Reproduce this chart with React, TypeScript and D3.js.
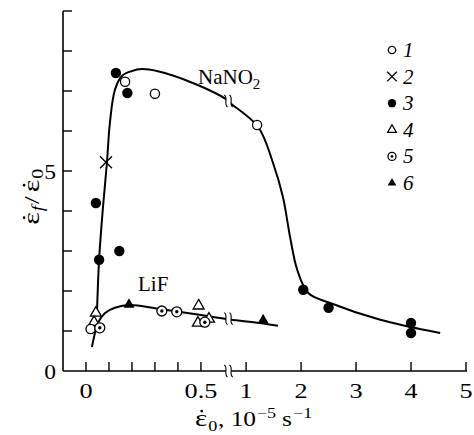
import React from "react";
import * as d3 from "d3";

// Tick positions (x axis has a break between 0.62 and 0.68)
const xTicks = [0, 0.1, 0.2, 0.3, 0.4, 0.5, 1, 2, 3, 4, 5];
const xTickLabels = [
  { v: 0, t: "0" },
  { v: 0.5, t: "0.5" },
  { v: 1, t: "1" },
  { v: 2, t: "2" },
  { v: 3, t: "3" },
  { v: 4, t: "4" },
  { v: 5, t: "5" },
];
const yTicks = [1, 2, 3, 4, 5, 6, 7, 8, 9];
const yTickLabels = [0, 5];

// Measured series
const series1: [number, number][] = [[0.17, 7.23], [0.3, 6.93], [1.2, 6.15], [0.02, 1.05]];
const series2: [number, number][] = [[0.087, 5.22]];
const series3: [number, number][] = [
  [0.13, 7.45], [0.18, 6.95], [0.043, 4.2], [0.057, 2.78], [0.145, 3.0],
  [2.04, 2.03], [2.5, 1.58], [4.0, 1.2], [4.0, 0.95],
];
const series4: [number, number][] = [[0.043, 1.45], [0.035, 1.22], [0.49, 1.63], [0.487, 1.2], [0.535, 1.3]];
const series5: [number, number][] = [[0.06, 1.08], [0.33, 1.5], [0.395, 1.48], [0.517, 1.22]];
const series6: [number, number][] = [[0.187, 1.66], [1.31, 1.27]];

// Fitted curves
const nano2Curve: [number, number][] = [
  [0.048, 1.48], [0.057, 2.78], [0.074, 4.1], [0.091, 5.2], [0.104, 6.2], [0.126, 7.03],
  [0.157, 7.38], [0.2, 7.5], [0.243, 7.55], [0.309, 7.5], [0.465, 7.2], [0.613, 6.78],
  [0.71, 6.7], [1.22, 6.1], [1.49, 5.2], [1.67, 4.35], [1.8, 3.35], [1.93, 2.53],
  [2.13, 1.95], [2.53, 1.7], [3.44, 1.28], [4.53, 0.95],
];
const lifCurve: [number, number][] = [
  [0.026, 0.6], [0.039, 0.95], [0.052, 1.2], [0.083, 1.45], [0.126, 1.58], [0.19, 1.65],
  [0.32, 1.55], [0.5, 1.4], [0.61, 1.3], [1.25, 1.2], [1.58, 1.13],
];

// Scale break location and where the curves cross it
const breakX = 0.65;
const nano2BreakY = 6.75;
const lifBreakY = 1.31;

const legendLabels = ["1", "2", "3", "4", "5", "6"];

const FONT = "'Liberation Serif', 'Times New Roman', serif";
const WIDE = 1.25; // horizontal stretch of the x tick labels

type Kind = "open" | "cross" | "filled" | "openTri" | "dot" | "filledTri";

function Marker({ kind, cx, cy, s = 1 }: { kind: Kind; cx: number; cy: number; s?: number }) {
  const sw = 1.3;
  switch (kind) {
    case "open":
      return <circle cx={cx} cy={cy} r={4.6 * s} fill="#fff" stroke="#000" strokeWidth={sw} />;
    case "filled":
      return <circle cx={cx} cy={cy} r={5.2 * s} fill="#000" />;
    case "dot":
      return (
        <g>
          <circle cx={cx} cy={cy} r={5 * s} fill="#fff" stroke="#000" strokeWidth={sw} />
          <circle cx={cx} cy={cy} r={1.7 * s} fill="#000" />
        </g>
      );
    case "cross": {
      const h = 6 * s;
      return (
        <path
          d={`M${cx - h},${cy - h}L${cx + h},${cy + h}M${cx - h},${cy + h}L${cx + h},${cy - h}`}
          stroke="#000"
          strokeWidth={sw}
        />
      );
    }
    case "openTri":
    case "filledTri": {
      const a = 11 * s;
      const hgt = (a * Math.sqrt(3)) / 2;
      const d = `M${cx},${cy - (2 * hgt) / 3}L${cx + a / 2},${cy + hgt / 3}L${cx - a / 2},${cy + hgt / 3}Z`;
      return kind === "openTri" ? (
        <path d={d} fill="#fff" stroke="#000" strokeWidth={sw} strokeLinejoin="miter" />
      ) : (
        <path d={d} fill="#000" />
      );
    }
  }
}

function BreakMark({ cx, cy }: { cx: number; cy: number }) {
  const w = (x: number) =>
    `M${x - 1.6},${cy - 6}C${x + 2.6},${cy - 3} ${x - 2.6},${cy + 3} ${x + 1.6},${cy + 6}`;
  return (
    <g>
      <rect x={cx - 2.6} y={cy - 4} width={5.2} height={8} fill="#fff" />
      <path d={w(cx - 2.6)} fill="none" stroke="#000" strokeWidth={1.1} />
      <path d={w(cx + 2.6)} fill="none" stroke="#000" strokeWidth={1.1} />
    </g>
  );
}

// Epsilon with an overdot, drawn at local (x, 0) baseline
function EpsDot({ x, size }: { x: number; size: number }) {
  const w = 0.439 * size;
  return (
    <g>
      <text x={x} y={0} fontSize={size}>
        ε
      </text>
      <ellipse cx={x + w / 2 + 0.3} cy={-0.62 * size} rx={1.15} ry={1.3} fill="#000" />
    </g>
  );
}

export default function App() {
  const W = 474;
  const H = 435;
  const x = d3.scaleLinear().domain([-0.1, 0.62, 0.68, 5]).range([63, 228.5, 228.5, 466]);
  const y = d3.scaleLinear().domain([0, 9]).range([371, 11]);
  const line = d3
    .line<[number, number]>()
    .x((d) => x(d[0]))
    .y((d) => y(d[1]))
    .curve(d3.curveCatmullRom.alpha(0.5));

  const x0 = x(-0.1);
  const y0 = y(0);
  const tick = 9;

  const pts = (data: [number, number][], kind: Kind) =>
    data.map((d, i) => <Marker key={kind + i} kind={kind} cx={x(d[0])} cy={y(d[1])} />);

  const legendKinds: Kind[] = ["open", "cross", "filled", "openTri", "dot", "filledTri"];

  return (
    <svg
      width={W}
      height={H}
      viewBox={`0 0 ${W} ${H}`}
      style={{ position: "absolute", left: 0, top: 0, background: "#fff" }}
      fontFamily={FONT}
    >
      {/* axes */}
      <line x1={x0} y1={y(9)} x2={x0} y2={y0} stroke="#000" strokeWidth={1.6} />
      <line x1={x0} y1={y0} x2={x(5) + 1} y2={y0} stroke="#000" strokeWidth={1.6} />
      {yTicks.map((t) => (
        <line key={"yt" + t} x1={x0} x2={x0 + tick} y1={y(t)} y2={y(t)} stroke="#000" strokeWidth={1.4} />
      ))}
      {xTicks.map((t) => (
        <line key={"xt" + t} x1={x(t)} x2={x(t)} y1={y0} y2={y0 - tick} stroke="#000" strokeWidth={1.4} />
      ))}
      <BreakMark cx={x(breakX)} cy={y0} />
      {yTickLabels.map((t) => (
        <text
          key={"yl" + t}
          transform={`translate(56,${y(t) + 7.5}) scale(1.12,1)`}
          fontSize={21}
          textAnchor="end"
        >
          {t}
        </text>
      ))}
      {xTickLabels.map((t) => (
        <text
          key={"xl" + t.v}
          transform={`translate(${x(t.v)},398) scale(${WIDE},1)`}
          fontSize={21}
          textAnchor="middle"
        >
          {t.t}
        </text>
      ))}

      {/* x axis title */}
      <g transform={`translate(195,426) scale(1.21,1)`}>
        <EpsDot x={0} size={24} />
        <text x={11} y={4.5} fontSize={15}>0</text>
        <text x={19} y={0} fontSize={21}>, 10</text>
        <text x={51} y={-8} fontSize={15}>−5</text>
        <text x={72} y={0} fontSize={21}>s</text>
        <text x={81} y={-8} fontSize={15}>−1</text>
      </g>

      {/* y axis title */}
      <g transform={`translate(39,196) rotate(-90) scale(1.25,1)`}>
        <EpsDot x={-23} size={24} />
        <text x={-12.2} y={4} fontSize={16} fontStyle="italic">f</text>
        <text x={-6.5} y={0} fontSize={22}>/</text>
        <EpsDot x={3} size={24} />
        <text x={13.8} y={4} fontSize={16}>0</text>
      </g>

      {/* fitted curves */}
      <path d={line(nano2Curve) || ""} fill="none" stroke="#000" strokeWidth={2} />
      <path d={line(lifCurve) || ""} fill="none" stroke="#000" strokeWidth={2} />
      <BreakMark cx={x(breakX)} cy={y(nano2BreakY)} />
      <BreakMark cx={x(breakX)} cy={y(lifBreakY)} />

      {/* curve labels */}
      <text x={198} y={84} fontSize={21}>
        NaNO<tspan dy={5} fontSize={15}>2</tspan>
      </text>
      <text x={138} y={291} fontSize={21}>
        LiF
      </text>

      {/* data points */}
      {pts(series4, "openTri")}
      {pts(series6, "filledTri")}
      {pts(series1, "open")}
      {pts(series5, "dot")}
      {pts(series2, "cross")}
      {pts(series3, "filled")}

      {/* legend */}
      {legendKinds.map((k, i) => (
        <g key={"lg" + k}>
          <Marker kind={k} cx={392} cy={50 + i * 26.6} s={0.8} />
          <text x={403} y={50 + i * 26.6 + 7} fontSize={21} fontStyle="italic">
            {legendLabels[i]}
          </text>
        </g>
      ))}
    </svg>
  );
}
